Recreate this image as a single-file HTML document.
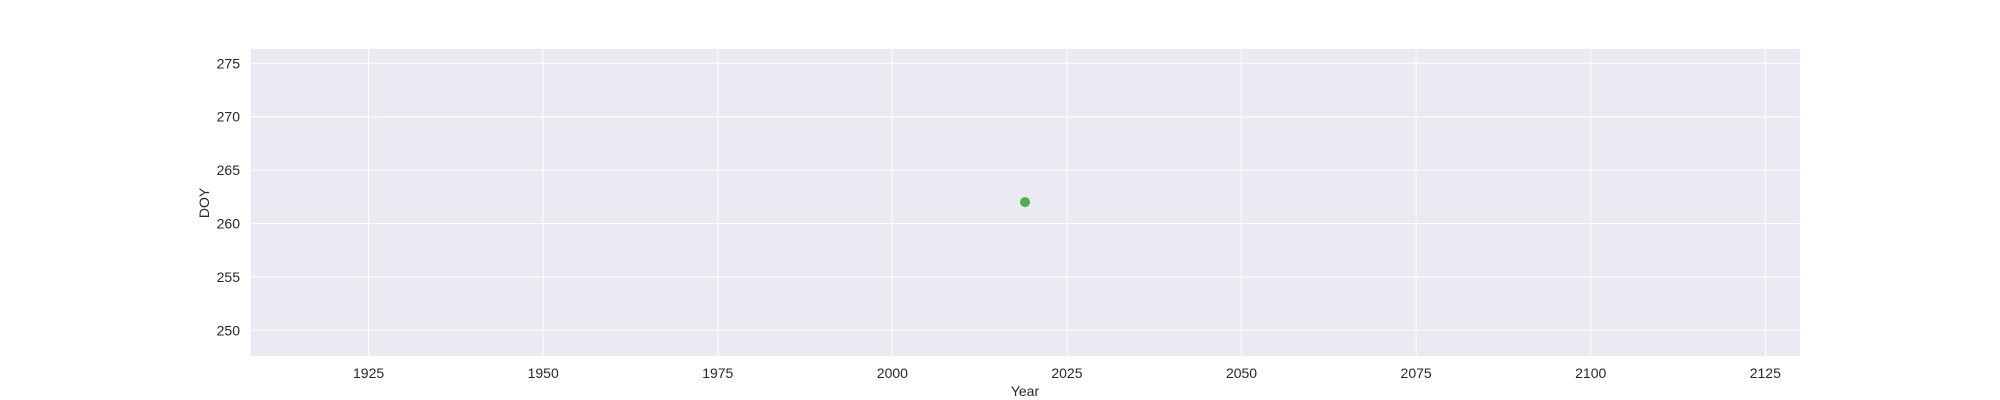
<!DOCTYPE html>
<html><head><meta charset="utf-8"><style>
html,body{margin:0;padding:0;background:#fff;}
svg{display:block;font-family:"Liberation Sans",sans-serif;}
</style></head><body>
<svg id="chart" width="2000" height="400" viewBox="0 0 2000 400">
<rect x="251" y="49" width="1549" height="307" fill="#eaeaf2"/>
<g id="grid"></g>
<g id="ticks" font-size="14" fill="#262626"></g>
<g id="marks"></g>
<text x="1025" y="396" text-anchor="middle" font-size="14" fill="#262626">Year</text>
<text transform="translate(209,203) rotate(-90)" text-anchor="middle" font-size="14" fill="#262626">DOY</text>
</svg>
<script>
const years = [2019];
const doy = [262];
const xTicks = [1925, 1950, 1975, 2000, 2025, 2050, 2075, 2100, 2125];
const yTicks = [250, 255, 260, 265, 270, 275];

const NS = "http://www.w3.org/2000/svg";
const L = 251, R = 1800, T = 49, B = 356;
function xs(v){ return 368.6 + (v - 1925) * (1765.3 - 368.6) / 200; }
function ys(v){ return 330.3 - (v - 250) * (330.3 - 63.3) / 25; }
const grid = document.getElementById('grid');
const ticks = document.getElementById('ticks');
const marks = document.getElementById('marks');
function mk(tag, attrs, parent){ const e = document.createElementNS(NS, tag); for (const k in attrs) e.setAttribute(k, attrs[k]); parent.appendChild(e); return e; }
xTicks.forEach(v => {
  const x = xs(v);
  const g = mk('line', {x1:x, x2:x, y1:T, y2:B, stroke:'#fff', 'stroke-width':1}, grid);
  
  
  const t = mk('text', {x:x, y:378, 'text-anchor':'middle'}, ticks);
  t.textContent = v;
  
  
});
yTicks.forEach(v => {
  const y = ys(v);
  const g = mk('line', {x1:L, x2:R, y1:y, y2:y, stroke:'#fff', 'stroke-width':1}, grid);
  
  
  const t = mk('text', {x:240, y:y + 5, 'text-anchor':'end'}, ticks);
  t.textContent = v;
  
  
});
years.forEach((yr, i) => {
  const c = mk('circle', {cx:xs(yr), cy:ys(doy[i]), r:5, fill:'#4daf4a'}, marks);
  
  
});
</script>
</body></html>
